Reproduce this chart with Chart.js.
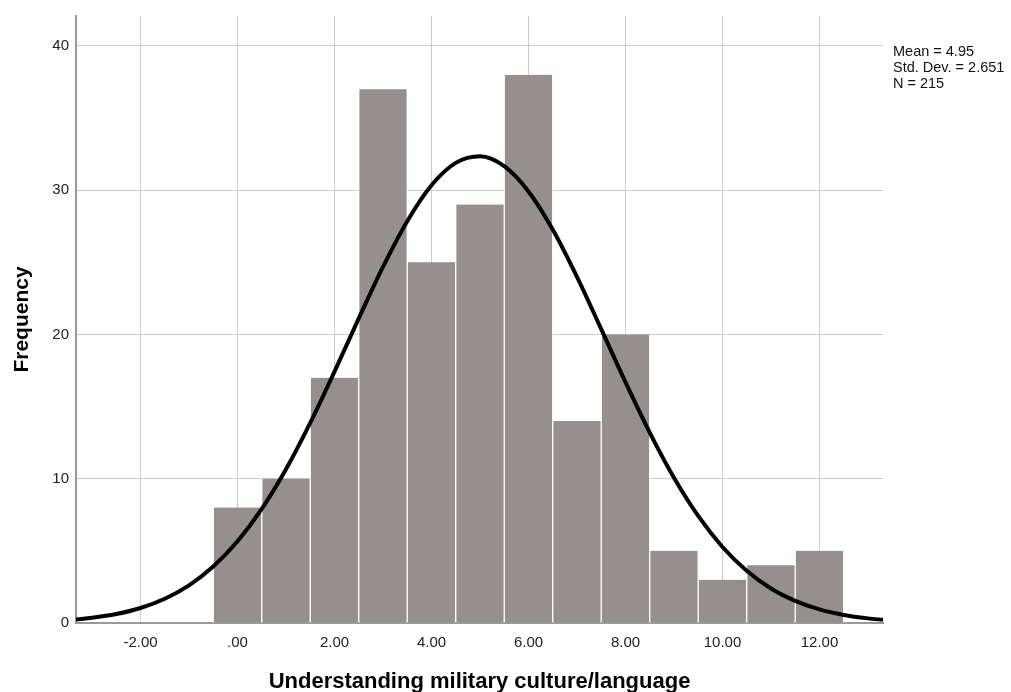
<!DOCTYPE html>
<html>
<head>
<meta charset="utf-8">
<title>Understanding military culture/language</title>
<script src="https://cdn.jsdelivr.net/npm/chart.js@4/dist/chart.umd.min.js"></script>
<style>
    html, body { margin: 0; padding: 0; background: #ffffff; }
    #wrap { width: 1011px; height: 692px; position: relative; }
</style>
</head>
<body>
<div id="wrap"><canvas id="histChart"></canvas></div>
<script>
// Histogram data (bin centres and counts)
const binCentres = [0, 1, 2, 3, 4, 5, 6, 7, 8, 9, 10, 11, 12];
const binCounts = [8, 10, 17, 37, 25, 29, 38, 14, 20, 5, 3, 4, 5];

// Normal curve points
const curveX = [-3.33, -3, -2.5, -2, -1.5, -1, -0.5, 0, 0.5, 1, 1.5, 2, 2.5, 3, 3.5, 4, 4.5, 5,
    5.5, 6, 6.5, 7, 7.5, 8, 8.5, 9, 9.5, 10, 10.5, 11, 11.5, 12, 12.5, 13, 13.31];
const curveY = [0.25, 0.36, 0.62, 1.04, 1.68, 2.61, 3.91, 5.66, 7.91, 10.66, 13.87, 17.42, 21.11, 24.68, 27.85, 30.34, 31.89, 32.35,
    31.66, 29.91, 27.27, 23.99, 20.37, 16.69, 13.2, 10.07, 7.42, 5.27, 3.62, 2.39, 1.53, 0.94, 0.56, 0.32, 0.22];

// Axis ticks
const xTicks = [-2, 0, 2, 4, 6, 8, 10, 12];
const yTicks = [0, 10, 20, 30, 40];

// Summary statistics shown at the right
const statLines = ['Mean = 4.95', 'Std. Dev. = 2.651', 'N = 215'];

const xMin = -3.33, xMax = 13.31;
const yMax = 42.07;

const fontFamily = '"Liberation Sans", Arial, sans-serif';

function formatX(v) {
    if (v === 0) return '.00';
    return v.toFixed(2);
}

// Draw the stats box next to the plot
const statsPlugin = {
    id: 'statsText',
    afterDraw(chart) {
        const ctx = chart.ctx;
        const area = chart.chartArea;
        ctx.save();
        ctx.fillStyle = '#111';
        ctx.font = '14.5px ' + fontFamily;
        ctx.textBaseline = 'middle';
        statLines.forEach((line, i) => {
            ctx.fillText(line, area.right + 10, area.top + 36 + i * 16);
        });
        ctx.restore();
    }
};

const gridColor = '#cccccc';
const axisColor = '#9a9a9a';

const histChart = new Chart(document.getElementById('histChart'), {
    type: 'bar',
    data: {
        datasets: [{
            type: 'line',
            data: curveX.map((x, i) => ({ x: x, y: curveY[i] })),
            borderColor: '#000000',
            borderWidth: 4,
            pointRadius: 0,
            cubicInterpolationMode: 'monotone',
            fill: false,
            order: 0
        }, {
            type: 'bar',
            data: binCentres.map((x, i) => ({ x: x, y: binCounts[i] })),
            backgroundColor: '#958f8e',
            borderColor: '#ffffff',
            borderWidth: { left: 1, right: 1, top: 0, bottom: 0 },
            borderSkipped: false,
            barPercentage: 1,
            categoryPercentage: 1,
            order: 1
        }]
    },
    options: {
        responsive: true,
        maintainAspectRatio: false,
        animation: false,
        layout: {
            padding: { left: 0, right: 128, top: 13, bottom: 0 }
        },
        plugins: {
            legend: { display: false },
            tooltip: { enabled: false }
        },
        scales: {
            x: {
                type: 'linear',
                min: xMin,
                max: xMax,
                offset: false,
                afterFit: (scale) => { scale.height = 69; },
                afterBuildTicks: (scale) => {
                    scale.ticks = xTicks.map(v => ({ value: v }));
                },
                grid: {
                    color: gridColor,
                    offset: false,
                    drawTicks: false
                },
                border: { color: axisColor, width: 2 },
                ticks: {
                    color: '#222',
                    padding: 11,
                    maxRotation: 0,
                    font: { family: fontFamily, size: 15 },
                    callback: (v) => formatX(v)
                },
                title: {
                    display: true,
                    text: 'Understanding military culture/language',
                    color: '#000',
                    padding: { top: 0, bottom: -3 },
                    font: { family: fontFamily, size: 22, weight: 'bold' }
                }
            },
            y: {
                min: 0,
                max: yMax,
                afterFit: (scale) => { scale.width = 76; },
                afterBuildTicks: (scale) => {
                    scale.ticks = yTicks.map(v => ({ value: v }));
                },
                grid: {
                    color: gridColor,
                    drawTicks: false
                },
                border: { color: axisColor, width: 2 },
                ticks: {
                    color: '#222',
                    padding: 7,
                    font: { family: fontFamily, size: 15 }
                },
                title: {
                    display: true,
                    text: 'Frequency',
                    color: '#000',
                    padding: { top: 10, bottom: 0 },
                    font: { family: fontFamily, size: 21, weight: 'bold' }
                }
            }
        }
    },
    plugins: [statsPlugin]
});
</script>
</body>
</html>
